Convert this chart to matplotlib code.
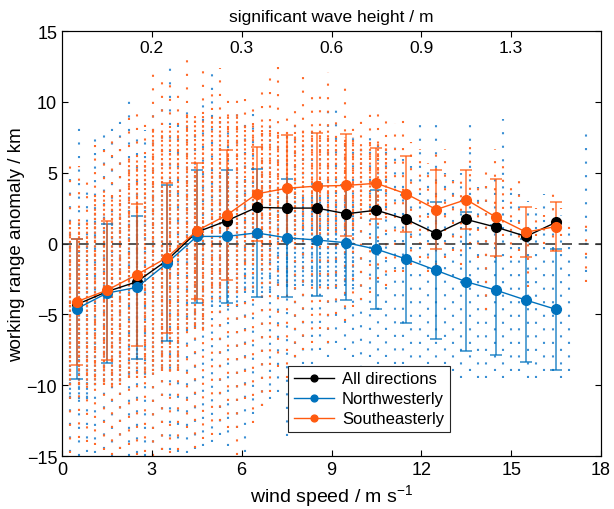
import numpy as np
import matplotlib.pyplot as plt

plt.rcParams['font.family'] = ['Liberation Sans', 'DejaVu Sans']

# binned means / std of working range anomaly (km) per 1 m/s wind bin
bin_centre = [0.5, 1.5, 2.5, 3.5, 4.5, 5.5, 6.5, 7.5, 8.5, 9.5, 10.5, 11.5, 12.5, 13.5, 14.5, 15.5, 16.5]
all_mean = [-4.3, -3.4, -2.7, -1.2, 0.8, 1.6, 2.55, 2.5, 2.5, 2.1, 2.35, 1.7, 0.7, 1.7, 1.15, 0.5, 1.5]
nw_mean = [-4.6, -3.5, -3.1, -1.4, 0.5, 0.5, 0.75, 0.4, 0.25, 0.05, -0.4, -1.1, -1.9, -2.7, -3.3, -4.0, -4.65]
nw_std = [4.95, 4.9, 5.05, 5.5, 4.7, 4.7, 4.5, 4.15, 3.95, 4.05, 4.2, 4.5, 4.85, 4.9, 4.6, 4.35, 4.25]
se_mean = [-4.1, -3.3, -2.2, -1.0, 0.9, 2.0, 3.5, 3.9, 4.05, 4.1, 4.25, 3.5, 2.4, 3.1, 1.85, 0.8, 1.2]
se_std = [4.45, 4.9, 5.0, 5.3, 4.8, 4.6, 3.3, 3.75, 3.75, 3.6, 2.5, 2.7, 2.8, 2.1, 2.7, 1.75, 1.7]

# top axis: significant wave height at the wind speed ticks
wave_pos = [3, 6, 9, 12, 15]
wave_labels = ['0.2', '0.3', '0.6', '0.9', '1.3']

# individual samples: wind recorded in whole km/h, extent of each column of dots
col_kmh = list(range(1, 64))
se_hi = [5.8, 5.5, 4.9, 7.5, 7.0, 7.9, 7.5, 8.9, 9.4, 8.8,
         12.7, 11.7, 11.4, 10.9, 13.5, 9.0, 12.8, 11.0, 12.4, 10.8,
         10.8, 10.4, 9.5, 11.5, 11.7, 12.6, 9.4, 9.6, 12.1, 10.4,
         10.6, 12.1, 9.0, 11.1, 8.2, 9.3, 9.2, 9.8, 8.7, 8.5,
         8.7, 7.2, 6.7, 5.7, 6.7, 6.7, 4.5, 4.8, 7.1, 4.5,
         5.1, 6.7, 6.0, 4.5, 4.5, 1.2, 2.5, 2.0, 4.0, 2.5,
         1.9, np.nan, 1.3]
se_lo = [-14.8, -13.7, -14.0, -14.2, -14.6, -14.9, -14.5, -14.2, -14.9, -14.7,
         -15.0, -14.6, -14.8, -14.6, -13.0, -14.4, -13.8, -13.5, -12.5, -13.0,
         -14.9, -11.0, -12.7, -11.5, -10.5, -8.7, -9.5, -8.0, -7.5, -7.0,
         -6.0, -7.0, -5.0, -5.5, -4.5, -4.0, -3.5, -2.5, -3.0, -2.0,
         -2.0, -1.5, -1.0, -2.0, -1.5, -1.0, -0.5, -1.5, 0.0, -1.0,
         -4.7, -1.0, 0.5, -1.0, -0.5, -3.1, 0.5, 0.0, -0.5, 0.5,
         1.0, np.nan, -2.7]
nw_hi = [4.9, 8.4, 3.9, 8.1, 8.1, 8.5, 9.3, 10.4, 8.0, 8.0,
         9.5, 10.0, 12.9, 8.5, 9.8, 8.2, 10.5, 12.4, 9.0, 8.0,
         9.5, 9.2, 9.8, 8.0, 8.5, 7.5, 8.0, 8.7, 7.5, 8.0,
         7.0, 9.4, 9.4, 7.5, 8.2, 7.0, 7.5, 7.2, 6.5, 6.8,
         6.0, 5.5, 8.4, 5.8, 8.4, 5.0, 4.5, 5.0, 8.8, 4.0,
         4.5, 5.0, 8.8, 4.0, 3.5, 3.0, 2.5, 3.5, 2.5, 2.0,
         1.5, np.nan, 8.2]
nw_lo = [-14.7, -15.0, -14.7, -14.8, -14.5, -15.0, -14.5, -15.0, -14.8, -15.0,
         -15.0, -14.6, -14.6, -14.7, -14.8, -14.5, -14.3, -14.0, -13.5, -14.3,
         -13.0, -14.7, -12.0, -11.5, -11.0, -10.5, -13.6, -9.0, -8.5, -8.5,
         -7.5, -8.0, -7.0, -7.5, -8.0, -10.7, -8.0, -8.5, -8.0, -8.5,
         -8.5, -9.0, -9.0, -8.5, -9.0, -8.5, -9.0, -9.5, -9.0, -9.5,
         -9.5, -9.0, -9.5, -9.0, -9.0, -9.5, -9.5, -9.0, -9.0, -9.5,
         -9.0, np.nan, -2.0]
# dense part of each bin's dots
se_core_lo = [-10, -10, -9.5, -9, -6, -3.5, -1.5, 0, 1, 1, 2] + [np.nan] * 6
se_core_hi = [1.5, 3.5, 6, 8, 9, 9, 8.5, 8, 8, 7.5, 7] + [np.nan] * 6
nw_core_lo = [-11, -10, -9.5, -9, -6, -4.5, -3.5, -3, -3, -3] + [np.nan] * 7
nw_core_hi = [0, 2, 3, 4, 5, 5, 4.5, 4, 3.5, 3] + [np.nan] * 7

c_blue = '#0072BD'
c_orange = '#FF5A0F'

fig = plt.figure(figsize=(6.14, 5.10), dpi=100)
ax = fig.add_axes([62 / 614, 1 - 457 / 510, 539 / 614, 425 / 510])

col_ws = np.array(col_kmh) / 3.6
col_bin = np.minimum(np.floor(col_ws).astype(int), len(bin_centre) - 1)

for hi, lo, clo, chi, c in [(nw_hi, nw_lo, nw_core_lo, nw_core_hi, '#3a8fd4'),
                            (se_hi, se_lo, se_core_lo, se_core_hi, '#ff6a2a')]:
    hi = np.array(hi)
    lo = np.array(lo)
    ax.vlines(col_ws, lo, hi, colors=c, linestyles=(0, (1, 5.5)), lw=1.5, zorder=1)
    core_lo = np.maximum(np.array(clo)[col_bin], lo)
    core_hi = np.minimum(np.array(chi)[col_bin], hi)
    ax.vlines(col_ws, core_lo, core_hi, colors=c, linestyles=(0, (1, 1.2)), lw=1.5, zorder=1)

ax.axhline(0, color='#3a3a3a', ls=(0, (6, 4)), lw=1.2, zorder=2)

for m, s, c in [(nw_mean, nw_std, c_blue), (se_mean, se_std, c_orange)]:
    ax.errorbar(bin_centre, m, yerr=s, fmt='none', ecolor=c, elinewidth=1.3,
                capsize=4.5, capthick=1.3, alpha=0.7, zorder=3)

ax.plot(bin_centre, all_mean, '-o', color='k', lw=1, ms=7, label='All directions', zorder=4)
ax.plot(bin_centre, nw_mean, '-o', color=c_blue, lw=1, ms=7, label='Northwesterly', zorder=4)
ax.plot(bin_centre, se_mean, '-o', color=c_orange, lw=1, ms=7, label='Southeasterly', zorder=4)

ax.set_xlim(0, 18)
ax.set_ylim(-15, 15)
ax.set_xticks(range(0, 19, 3))
ax.set_yticks(range(-15, 16, 5))
ax.tick_params(direction='in', right=True, labelsize=13, length=4, width=0.8)
ax.set_xlabel('wind speed / m s$^{\\mathregular{-1}}$', fontsize=14, labelpad=3)
ax.set_ylabel('working range anomaly / km', fontsize=13.5, labelpad=1)
for sp in ax.spines.values():
    sp.set_linewidth(0.8)
    sp.set_color('#262626')

ax2 = ax.twiny()
ax2.set_xlim(0, 18)
ax2.set_xticks(wave_pos)
ax2.set_xticklabels([''] * len(wave_pos))
ax2.tick_params(direction='in', length=4, width=0.8)
ax2.set_xlabel('significant wave height / m', fontsize=12.5, labelpad=4)
for x, t in zip(wave_pos, wave_labels):
    ax.text(x, 0.962, t, transform=ax.get_xaxis_transform(), ha='center', va='center', fontsize=12.5)

leg = ax.legend(loc='lower left', bbox_to_anchor=(0.419, 0.056), borderaxespad=0, fontsize=12,
                fancybox=False, edgecolor='#262626', framealpha=1, handlelength=2.4,
                labelspacing=0.3, markerscale=0.7, borderpad=0.35, handletextpad=0.5)
leg.get_frame().set_linewidth(0.8)

fig.savefig('out.png', dpi=100)
